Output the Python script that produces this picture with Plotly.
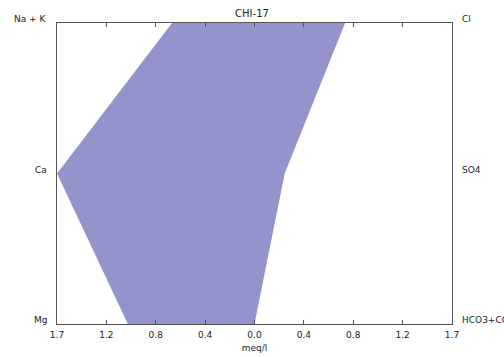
import numpy as np
import plotly.graph_objects as go

# Stiff diagram for sample CHI-17 (meq/l)
cation_names = ["Na + K", "Ca", "Mg"]
cation_values = [0.71, 1.70, 1.09]
anion_names = ["Cl", "SO4", "HCO3+CO3"]
anion_values = [0.78, 0.26, 0.0]
levels = [3, 2, 1]

x_max = 1.7
tick_text = ["1.7", "1.2", "0.8", "0.4", "0.0", "0.4", "0.8", "1.2", "1.7"]
tick_vals = list(np.linspace(-x_max, x_max, len(tick_text)))

# closed outline: cations on the left (negative), anions on the right
poly_x = [-v for v in cation_values] + anion_values[::-1] + [-cation_values[0]]
poly_y = levels + levels[::-1] + [levels[0]]

fig = go.Figure()
fig.add_trace(go.Scatter(
    x=poly_x, y=poly_y, mode="lines", fill="toself",
    fillcolor="rgb(148,148,204)", line=dict(width=0, color="rgb(148,148,204)"),
    hoverinfo="skip", showlegend=False,
))

font = dict(family="DejaVu Sans", size=9, color="#222222")

fig.update_layout(
    width=504, height=357,
    margin=dict(l=57, r=52, t=23, b=33),
    paper_bgcolor="white", plot_bgcolor="white",
    showlegend=False,
    font=font,
    title=dict(text="CHI-17", x=0.5, xanchor="center", y=1 - 13 / 357, yanchor="middle",
               font=dict(family="DejaVu Sans", size=10, color="#222222")),
    xaxis=dict(range=[-x_max, x_max], tickvals=tick_vals, ticktext=tick_text,
               ticks="inside", ticklen=4, tickcolor="#555555", mirror="ticks",
               showline=True, linecolor="#555555", linewidth=1.3, automargin=False,
               showgrid=False, zeroline=False, tickfont=font, ticklabelstandoff=2,
               title=dict(text="meq/l", font=font, standoff=5)),
    yaxis=dict(range=[1, 3], showticklabels=False, ticks="", automargin=False,
               showline=True, linecolor="#555555", linewidth=1.3, mirror=True,
               showgrid=False, zeroline=False),
)

for name, lev in zip(cation_names, levels):
    fig.add_annotation(text=name, x=0, xref="paper", xanchor="right", xshift=-8,
                       y=lev, yref="y", yanchor="middle", yshift=4,
                       showarrow=False, font=font)
for name, lev in zip(anion_names, levels):
    fig.add_annotation(text=name, x=1, xref="paper", xanchor="left", xshift=8,
                       y=lev, yref="y", yanchor="middle", yshift=4,
                       showarrow=False, font=font)

fig.write_html("out.html")
